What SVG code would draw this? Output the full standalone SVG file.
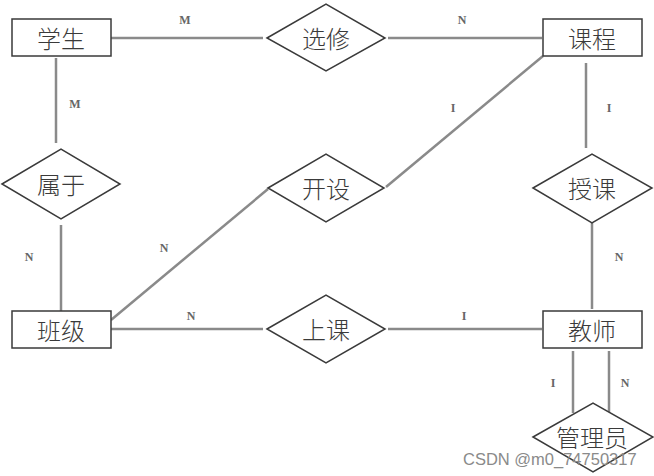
<svg xmlns="http://www.w3.org/2000/svg" width="654" height="476" viewBox="0 0 654 476">
<style>
.ent{fill:#fff;stroke:#3a3a3a;stroke-width:1.5}
.rel{fill:#fff;stroke:#3a3a3a;stroke-width:1.5}
.t{font-family:"Noto Sans CJK SC","Noto Sans",sans-serif;font-size:24px;font-weight:300;fill:#3a3a3a;text-anchor:middle;dominant-baseline:central}
.c{stroke:#8a8a8a;stroke-width:2.5;fill:none}
.lb{font-family:"Liberation Serif",serif;font-size:12px;font-weight:bold;fill:#666;text-anchor:middle;dominant-baseline:central}
.wm{font-family:"Liberation Sans",sans-serif;font-size:16.5px;fill:#8a8a8a}
</style>
<rect width="654" height="476" fill="#fff"/>
<g id="connectors">
<line class="c" x1="111" y1="38" x2="263" y2="38"/>
<line class="c" x1="388" y1="38" x2="542" y2="38"/>
<line class="c" x1="56" y1="58" x2="56" y2="143"/>
<line class="c" x1="61" y1="225" x2="61" y2="311"/>
<line class="c" x1="386" y1="187" x2="543" y2="56"/>
<line class="c" x1="111" y1="320" x2="268" y2="189"/>
<line class="c" x1="586" y1="63" x2="586" y2="148"/>
<line class="c" x1="592" y1="223" x2="592" y2="309"/>
<line class="c" x1="111" y1="329" x2="263" y2="329"/>
<line class="c" x1="388" y1="329" x2="542" y2="329"/>
<line class="c" x1="573" y1="351" x2="573" y2="413"/>
<line class="c" x1="609" y1="351" x2="609" y2="413"/>
<text class="lb" x="185" y="20">M</text>
<text class="lb" x="462" y="20">N</text>
<text class="lb" x="75" y="104">M</text>
<text class="lb" x="453" y="108">I</text>
<text class="lb" x="609" y="108">I</text>
<text class="lb" x="29" y="257">N</text>
<text class="lb" x="164" y="248">N</text>
<text class="lb" x="619" y="257">N</text>
<text class="lb" x="191" y="316">N</text>
<text class="lb" x="464" y="316">I</text>
<text class="lb" x="553" y="383">I</text>
<text class="lb" x="625" y="383">N</text>
</g>
<g id="student"><rect class="ent" x="12" y="19" width="99" height="37"/><text class="t" x="61" y="37">学生</text></g>
<g id="course"><rect class="ent" x="543" y="19" width="99" height="37"/><text class="t" x="592" y="37">课程</text></g>
<g id="class"><rect class="ent" x="12" y="311" width="99" height="37"/><text class="t" x="61" y="329">班级</text></g>
<g id="teacher"><rect class="ent" x="543" y="311" width="99" height="37"/><text class="t" x="592" y="329">教师</text></g>
<g id="xuanxiu"><polygon class="rel" points="267,38 326,4 385,38 326,71"/><text class="t" x="326" y="37">选修</text></g>
<g id="shuyu"><polygon class="rel" points="2,184 61,149 120,184 61,219"/><text class="t" x="61" y="183">属于</text></g>
<g id="kaishe"><polygon class="rel" points="268,188 326,154 384,188 326,222"/><text class="t" x="326" y="187">开设</text></g>
<g id="shouke"><polygon class="rel" points="533,188 592,154 652,188 592,223"/><text class="t" x="592" y="187">授课</text></g>
<g id="shangke"><polygon class="rel" points="267,329 326,295 385,329 326,363"/><text class="t" x="326" y="328">上课</text></g>
<g id="guanliyuan"><polygon class="rel" points="533,437 593,403 653,437 593,472"/><text class="t" x="592" y="436">管理员</text></g>
<text class="wm" x="463" y="465">CSDN @m0_74750317</text>
</svg>
